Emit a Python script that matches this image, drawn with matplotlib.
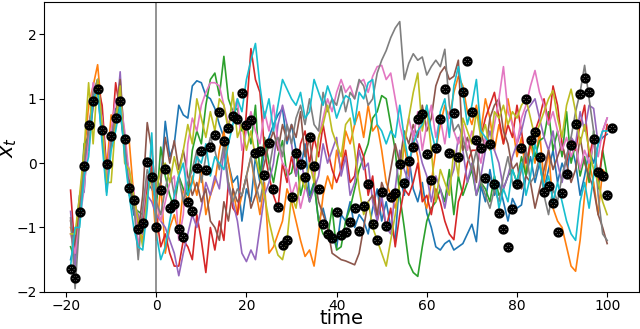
import numpy as np
import matplotlib.pyplot as plt

# observed points, t = -19 .. 101
obs_t = np.arange(-19, 102)
obs = [-1.64, -1.79, -0.76, -0.04, 0.60, 0.96, 1.16, 0.52, -0.02, 0.42,
       0.70, 0.96, 0.38, -0.39, -0.58, -1.02, -0.93, 0.02, -0.21,
       -1.00, -0.42, -0.09, -0.70, -0.64, -1.03, -1.15, -0.61, -0.74, -0.07,
       0.19, -0.10, 0.25, 0.43, 0.80, 0.35, 0.55, 0.73, 0.68, 1.09,
       0.59, 0.67, 0.16, 0.19, -0.18, 0.32, -0.40, -0.68, -1.28, -1.19,
       -0.52, 0.16, -0.01, -0.21, 0.41, -0.04, -0.40, -0.94, -1.10, -1.17,
       -0.76, -1.11, -1.07, -0.92, -0.70, -1.05, -0.67, -0.33, -0.95, -1.20,
       -0.45, -0.97, -0.53, -0.47, -0.01, -0.31, 0.04, 0.25, 0.68, 0.76,
       0.14, -0.26, 0.24, 0.68, 1.15, 0.15, 0.78, 0.10, 1.11, 1.58,
       0.79, 0.36, 0.24, -0.23, 0.30, -0.33, -0.77, -1.02, -1.31, -0.72,
       -0.32, 0.24, 1.00, 0.36, 0.49, 0.10, -0.45, -0.36, -0.62, -1.07,
       -0.46, -0.17, 0.28, 0.61, 1.07, 1.33, 1.11, 0.37, -0.13, -0.20,
       -0.50, 0.54]

# sample paths, t = -19 .. 100
t = np.arange(-19, 101)

path_blue = [-1.5, -1.2, -0.5, -0.45, 0.6, 0.9, 1.1, 0.4, -0.1, 0.45, 0.85, 0.8, 0.2, -0.3, -0.8, -0.9, -1.1, -0.3, -0.4,
             -0.55, -0.3, 0.65, 0.1, 0.3, 0.9, 0.75, 0.7, 1.2, 1.28,
             1.25, 1.05, 1.0, 0.85, 0.6, 0.4, 0.0, -0.3, -0.2, -0.9,
             -0.4, -0.6, 0.1, -0.3, 0.2, 0.4, 0.6, 0.75, 0.85, 0.3,
             0.6, 0.2, -0.1, 0.3, -0.5, -0.3, -0.9, -0.7, -1.0, -1.1,
             -1.32, -0.8, -0.9, -0.6, -1.0, -0.8, -0.9, -1.1, -0.7, -0.4,
             -0.9, -0.6, -1.0, -1.2, -0.2, -0.5, 0.1, -0.4, -0.6, -0.3,
             -0.78, -1.0, -1.3, -1.35, -1.25, -1.2, -1.35, -1.3, -1.25, -1.1,
             -0.95, -1.22, -0.35, -0.6, -0.1, -0.5, -0.3, -0.6, -0.9, -0.55,
             -0.7, -0.65, -0.2, 0.1, -0.3, 0.0, -0.4, -0.1, 0.2, -0.3,
             0.0, -0.2, 0.3, 0.0, -0.5, -0.2, 0.2, 0.0, 0.3, 0.4,
             0.45]
path_orange = [-1.0, -1.3, -0.7, 0.1, 0.9, 1.2, 1.53, 0.75, -0.1, 0.75, 0.6, 0.95, 0.38, 0.35, -0.5, -1.0, -1.2, -0.2, -0.3,
               -1.2, -0.3, -1.4, -1.0, -0.8, -1.1, -0.4, -0.6, -0.2, -0.5,
               -0.1, -0.8, -0.5, -0.3, 0.2, 0.5, 0.0, -0.4, -0.8, -0.5,
               -0.2, 0.1, -0.4, -0.8, -0.3, -1.4, -1.3, -1.1, -0.9, -0.4,
               -0.6, -0.9, -1.2, -1.45, -1.35, -1.6, -1.1, -0.5, -0.2, -0.4,
               0.2, -0.1, 0.5, 0.3, 0.6, 0.8, 0.4, 0.9, 0.5, 0.6,
               0.2, -0.3, -0.5, -0.7, -0.3, 0.3, -0.2, 0.4, 0.1, -0.5,
               -0.7, -0.3, 0.2, 0.6, 0.9, 0.7, 1.1, 1.35, 1.2, 0.8,
               0.6, 0.9, 0.5, 1.0, 0.7, 0.2, 0.6, 0.3, 1.0, 0.6,
               0.1, 0.4, -0.2, 0.3, 0.0, 0.5, -0.3, 0.2, -0.7, -0.9,
               -1.0, -1.3, -1.6, -1.68, -1.2, -0.5, 0.0, -0.3, -0.8, -0.1,
               -0.2]
path_green = [-1.3, -1.5, -0.8, 0.3, 0.4, 1.0, 1.3, 0.5, -0.2, 0.4, 0.6, 1.0, 0.2, -0.3, -0.7, -0.75, -0.8, -0.3, -0.1,
              -0.7, 0.25, -0.2, -0.5, -0.7, -0.2, -0.4, -0.5, 0.2, 0.5,
              0.3, 0.9, 1.3, 1.4, 1.05, 1.66, 1.0, 0.8, 0.85, 0.5,
              0.6, 0.3, 0.9, -0.2, 0.4, 0.0, -0.3, 0.1, 0.35, -0.2,
              -0.15, 0.2, -0.5, -0.2, -0.6, -0.3, -0.9, -1.1, -1.15, -0.7,
              -1.35, -1.3, -0.9, -0.7, -0.4, -0.1, 0.1, 0.3, 0.7, 0.8,
              1.05, 1.0, 0.6, 0.2, -0.5, -1.0, -1.55, -1.7, -1.76, -1.3,
              -0.9, -0.7, -0.6, -0.4, -0.6, -0.1, -0.8, -0.2, -0.5, -0.3,
              -0.1, -0.5, -0.3, -0.4, -0.6, -0.2, -0.5, -0.4, -0.2, -0.1,
              -0.3, 0.1, -0.2, 0.4, 0.1, 0.35, 0.4, 0.8, 0.2, 0.5,
              0.1, 0.8, 0.0, 0.3, -0.2, 0.1, -0.3, 0.5, -0.4, 0.2,
              -0.2]
path_red = [-0.42, -1.4, -0.6, 0.0, 0.5, 1.0, 1.2, 0.9, -0.1, 0.3, 1.25, 0.8, 0.3, -0.2, -0.5, -0.9, -1.0, -0.4, 0.0,
            -0.8, -1.3, -1.1, -1.4, -1.6, -1.6, -1.2, -1.3, -1.5, -0.8,
            -1.2, -1.7, -1.0, -1.35, -0.9, -1.2, -0.3, -0.7, -0.8, -0.1,
            0.8, 1.78, 1.3, 1.1, 0.2, -0.2, -0.5, -0.7, 0.0, -0.3,
            0.1, -0.2, 0.3, 0.5, 0.0, 0.4, 0.1, 0.6, 0.2, -0.1,
            -0.3, -0.1, 0.2, -0.3, -0.2, 0.3, 0.1, -0.5, -0.2, -0.9,
            -0.6, -1.0, -0.7, -1.3, -0.8, -0.4, -0.5, -0.3, 0.0, -0.6,
            -0.5, -0.8, -0.4, -0.6, -0.9, -1.1, -1.19, -0.6, -0.4, 0.0,
            0.2, 0.2, 0.4, 0.7, 0.9, 1.1, 0.7, 0.3, 0.6, 0.4,
            0.9, 0.5, 0.0, 0.3, 0.5, 0.7, 1.0, 0.6, 1.2, 0.9,
            0.3, 0.0, 0.4, 0.2, 0.6, 0.9, 0.1, 0.4, -0.3, 0.2,
            0.6]
path_purple = [-0.75, -1.6, -0.8, 0.2, 0.2, 0.9, 1.3, 0.65, -0.3, 0.5, 0.6, 1.42, 0.15, -0.1, -0.6, -0.8, -1.1, -0.5, -0.6,
               -0.8, -0.9, -1.0, -1.2, -1.4, -1.75, -1.4, -1.1, -0.8, -1.0,
               -0.7, -0.3, -0.5, -0.2, -0.4, 0.2, -0.4, -0.6, -0.9, -1.4,
               -1.53, -1.35, -1.5, -1.0, -0.5, -0.3, 0.0, 0.6, 0.9, 0.6,
               0.3, -0.2, 0.1, -0.3, -0.6, -0.4, -0.2, 0.3, 0.0, 0.2,
               0.4, -0.2, 0.1, -0.5, -0.3, 0.2, -0.1, 0.0, -0.6, -0.9,
               -0.5, -1.0, -1.1, -0.4, 0.2, -0.1, -0.3, 0.5, 0.3, 0.0,
               -0.2, -0.6, -0.2, -0.4, -0.7, -0.3, -0.1, 0.4, 0.2, -0.3,
               0.0, -0.5, -0.2, 0.2, 0.5, 0.2, 0.0, -0.4, -0.2, 0.1,
               0.3, 0.5, 0.8, 0.9, 1.0, 0.7, 0.4, 0.2, 0.5, 0.0,
               -0.3, 0.1, 0.4, 0.3, 0.8, 0.5, 0.9, 0.85, 0.3, 0.5,
               0.7]
path_brown = [-0.9, -1.3, -0.6, 0.1, 0.3, 0.9, 1.25, 0.6, -0.2, 0.3, 0.75, 1.3, 0.3, -0.3, -0.6, -1.1, -0.5, 0.63, 0.2,
              -0.5, -0.3, 0.4, 0.0, 0.35, -0.1, 0.2, -0.2, -0.5, -0.3,
              -0.6, -0.4, -0.9, -1.0, -1.2, -0.6, -0.9, -0.4, -0.6, -0.5,
              -0.2, -0.7, -0.5, -0.3, 0.0, 0.3, 0.5, 0.2, 0.6, 0.35,
              0.6, 0.4, 0.8, 0.1, 0.4, -0.2, -0.6, -0.8, -1.0, -1.4,
              -1.45, -1.5, -1.52, -1.55, -1.58, -1.4, -1.0, -0.6, -0.5, -0.8,
              -0.3, -0.5, -0.1, 0.3, 0.0, 0.5, 0.3, 0.6, 0.4, 0.9,
              0.5, 0.7, 1.2, 1.4, 1.5, 1.3, 1.35, 1.6, 0.2, 0.4,
              0.1, -0.3, 0.5, 0.2, 0.7, 0.9, 1.0, 0.5, 0.3, -0.1,
              0.0, -0.4, -0.2, -0.3, -0.7, -0.4, -0.1, 0.2, -0.1, 0.1,
              0.3, 0.0, -0.3, -0.1, 0.4, 0.0, -0.2, -0.4, -0.8, -1.0,
              -1.25]
path_pink = [-1.1, -1.4, -0.9, -0.4, 0.4, 1.25, 1.0, 0.7, -0.3, 0.5, 1.0, 1.0, 0.5, -0.2, -0.4, -1.3, -0.8, -0.2, -0.3,
             -0.6, -0.9, -0.6, -0.3, -0.2, -1.2, -0.8, 0.3, 0.7, 0.5,
             0.9, 1.1, 1.25, 1.25, 1.2, 0.9, 0.6, 0.8, 1.0, 0.2,
             0.5, 0.8, 0.5, 0.3, 0.8, 0.5, 0.9, 0.3, 0.0, -0.1,
             -0.5, -0.3, -0.7, -0.4, 0.0, -0.2, 0.4, 0.7, 1.0, 0.8,
             1.1, 1.3, 1.1, 1.2, 1.0, 1.25, 1.3, 1.1, 1.35, 1.5,
             1.52, 1.3, 1.4, 1.0, 0.6, 0.3, 0.7, 0.4, 0.8, 0.2,
             0.6, 0.9, 0.4, 0.7, 0.3, 0.8, 0.5, 0.3, 0.6, 0.2,
             0.5, 0.3, 0.0, 0.4, 0.2, 0.6, 1.0, 1.5, 0.8, 0.6,
             0.3, 0.7, 0.9, 1.2, 1.44, 1.1, 0.9, 0.6, 0.8, 0.5,
             0.2, 0.4, 0.1, 0.3, -0.1, 0.2, 0.0, 0.3, 0.1, 0.5,
             0.7]
path_gray = [-0.85, -1.95, -0.9, 0.0, 0.5, 1.1, 1.3, 0.5, -0.45, 0.35, 0.8, 0.9, 0.35, -0.5, -0.6, -1.5, -0.7, -0.1, -0.3,
             -0.6, -0.8, -0.4, -0.1, -0.5, -0.2, -0.6, -0.3, -0.1, 0.2,
             -0.3, 0.1, 0.4, 0.2, -0.1, 0.3, -0.3, -0.6, -0.4, -0.5,
             -0.2, 0.1, -0.3, -0.6, -0.2, -0.1, 0.3, 0.4, 0.1, 0.6,
             0.3, 0.7, 0.9, 0.6, 1.0, 0.6, 0.5, 1.1, 0.8, 1.0,
             0.9, 1.2, 0.8, 1.1, 1.0, 1.3, 1.2, 0.9, 1.0, 1.4,
             1.6, 1.75, 1.95, 2.1, 2.2, 1.3, 1.55, 1.7, 1.6, 1.65,
             1.37, 1.5, 1.6, 1.5, 1.77, 0.9, 0.5, 0.6, 0.4, 0.1,
             -0.1, 0.2, -0.3, -0.5, -0.7, -0.4, -0.6, -0.2, 0.1, -0.3,
             -0.4, -0.1, 0.2, -0.3, -0.2, 0.1, -0.5, -0.8, -0.4, -0.6,
             -0.2, 0.1, 0.4, 0.8, 1.1, 1.52, 1.0, 0.5, -0.5, -1.1,
             -1.2]
path_olive = [-1.1, -1.1, -0.5, 0.2, 1.25, 0.3, 1.3, 0.6, -0.3, -0.3, 0.65, 1.2, 0.0, -0.1, -0.5, -0.9, -1.3, -0.5, -0.2,
              -0.4, -0.1, 0.0, -0.3, 0.1, -0.2, 0.2, 0.6, 0.3, 1.0,
              0.7, 0.4, 0.8, 0.5, 1.0, 0.9, 0.5, 1.1, 0.4, 0.6,
              0.2, 0.5, 0.1, -0.2, -0.5, -0.9, -1.2, -1.43, -1.5, -1.2,
              -0.5, -0.7, -0.2, -0.4, 0.0, -0.3, 0.4, 0.6, 0.9, 0.5,
              0.3, 0.1, 0.6, 0.7, 0.2, -0.4, -0.8, -0.6, -1.0, -1.2,
              -1.4, -1.6, -1.2, -0.8, -0.3, 0.3, 0.7, 1.1, 1.4, 0.5,
              0.9, 0.2, -0.6, -0.1, -0.3, -0.5, 0.2, -0.2, 0.7, 0.5,
              0.3, 0.8, 0.4, 0.6, 0.2, 0.8, 0.7, 0.9, 0.6, 0.8,
              0.7, 0.9, 1.0, 0.7, 0.4, 0.6, 0.8, 1.0, 1.13, 0.7,
              0.4, 0.9, 1.15, 0.8, 0.3, 0.6, 0.2, -0.1, -0.3, -0.6,
              -0.8]
path_cyan = [-1.6, -1.0, -1.0, -0.2, 0.1, 1.0, 1.15, 0.3, -0.5, 0.2, 0.5, 0.9, 0.1, -0.5, -1.0, -1.3, -1.35, -0.7, 0.47,
             -1.1, -1.5, -1.3, -0.9, -0.5, -0.2, 0.0, -0.5, -0.3, 0.1,
             0.0, 0.3, -0.2, 0.1, 0.0, -0.1, 0.3, 0.6, 1.0, 0.8,
             1.3, 1.6, 1.86, 1.2, 0.7, 1.0, 0.5, 0.9, 1.3, 1.15,
             1.0, 0.9, 1.1, 0.7, 0.8, 1.3, 1.1, 0.9, 1.2, 1.0,
             0.7, 0.9, 1.05, 1.0, 0.6, 1.1, 1.0, 1.25, 1.3, 0.6,
             0.5, 0.3, 0.5, 0.4, 0.9, 0.4, 0.0, 0.3, 0.5, 0.6,
             0.9, 0.5, 0.2, 0.8, 1.0, 0.4, 1.2, 1.5, 1.1, 0.6,
             0.9, 1.3, 0.5, 0.4, 0.3, -0.2, -0.7, -0.4, -0.6, -0.1,
             -0.3, 0.0, -0.5, -0.2, 0.3, 0.0, -0.4, -0.2, -0.6, -0.3,
             -0.6, -0.9, -1.1, -1.2, -0.6, -0.3, -0.7, -0.2, 0.3, 0.5,
             0.5]

paths = [path_blue, path_orange, path_green, path_red, path_purple,
         path_brown, path_pink, path_gray, path_olive, path_cyan]

fig = plt.figure(figsize=(6.4, 3.29), dpi=100)
ax = fig.add_axes([0.068, 0.113, 0.93, 0.88])

for p in paths:
    ax.plot(t, p, lw=1.2)

ax.axvline(0, color='gray', lw=1.2)
ax.plot(obs_t, obs, ls='none', marker=r'$\circledast$', color='black',
        markersize=6.5, markeredgewidth=0.9, zorder=5)

ax.set_ylim(-2, 2.5)
ax.set_yticks([-2, -1, 0, 1, 2])
ax.set_xticks([-20, 0, 20, 40, 60, 80, 100])
ax.tick_params(labelsize=10, pad=1.5)
ax.set_xlabel('time', fontsize=14, va='bottom')
ax.set_ylabel('$x_t$', fontsize=15)
ax.xaxis.set_label_coords(0.5, -0.126)
ax.yaxis.set_label_coords(-0.041, 0.5)

fig.savefig('out.png', dpi=100)
